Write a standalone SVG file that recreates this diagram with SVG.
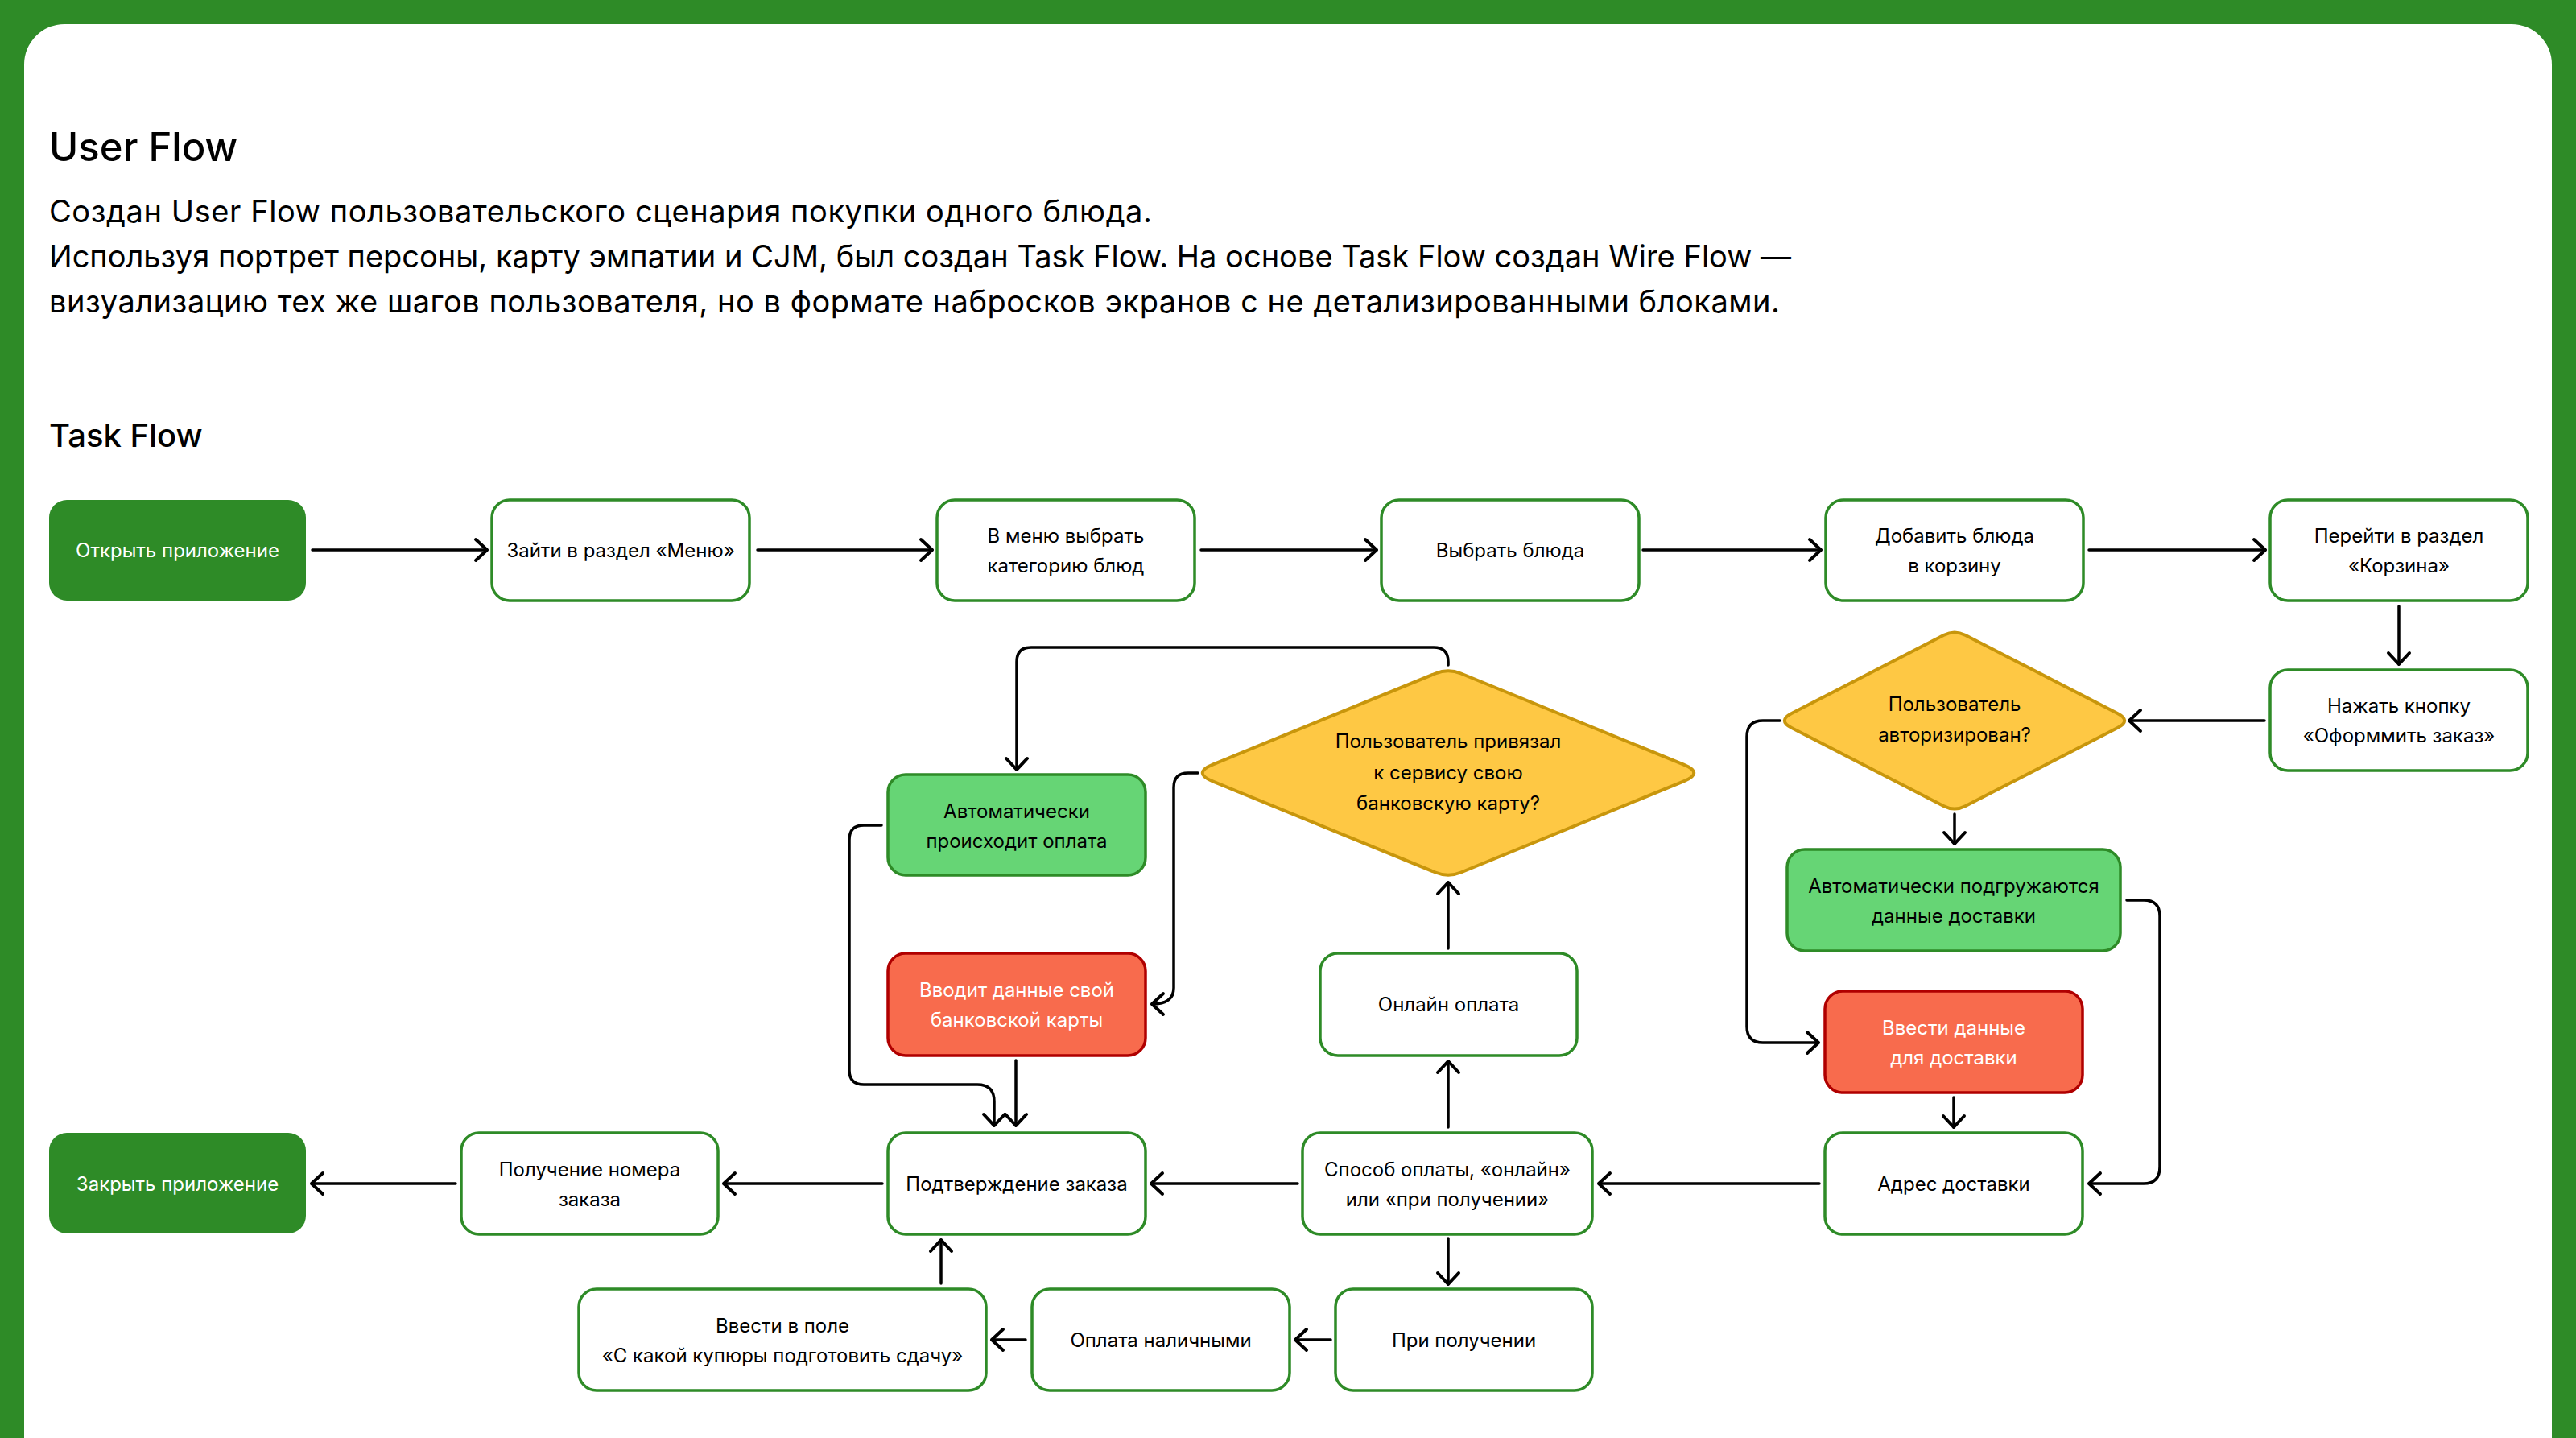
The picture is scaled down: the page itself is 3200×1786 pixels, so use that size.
<svg xmlns="http://www.w3.org/2000/svg" width="3200" height="1786" viewBox="0 0 3200 1786">
<defs>
<style>
.n{fill:#ffffff;stroke:#2E8B27;stroke-width:3.5}
.s{fill:#2E8B27;stroke:none}
.g{fill:#66D575;stroke:#2E8B27;stroke-width:3.5}
.r{fill:#F86B4D;stroke:#B00000;stroke-width:3.5}
.d{fill:#FEC844;stroke:#C8960C;stroke-width:4}
text{font-family:Inter,"Noto Sans","Liberation Sans",sans-serif}
.t{font-size:24px;fill:#000;text-anchor:middle}
.w{font-size:24px;fill:#fff;text-anchor:middle}
.c{fill:none;stroke:#000;stroke-width:3.5;stroke-linecap:round;stroke-linejoin:round}
</style>
<marker id="ah" viewBox="-20 -16 24 32" refX="0" refY="0" markerWidth="24" markerHeight="32" markerUnits="userSpaceOnUse" orient="auto">
<path d="M-14,-13 L0,0 L-14,13" fill="none" stroke="#000" stroke-width="4" stroke-linecap="round" stroke-linejoin="round"/>
</marker>
</defs>
<rect x="0" y="0" width="3200" height="1786" fill="#2E8B27"/>
<rect x="30" y="30" width="3140" height="1820" rx="50" fill="#ffffff"/>
<g id="header">
<text x="61" y="200" font-size="49" font-weight="500" fill="#000">User Flow</text>
<text x="61" y="276" font-size="38" fill="#000" textLength="1370" lengthAdjust="spacing">Создан User Flow пользовательского сценария покупки одного блюда.</text>
<text x="61" y="332" font-size="38" fill="#000" textLength="2164" lengthAdjust="spacing">Используя портрет персоны, карту эмпатии и CJM, был создан Task Flow. На основе Task Flow создан Wire Flow —</text>
<text x="61" y="388" font-size="38" fill="#000" textLength="2150" lengthAdjust="spacing">визуализацию тех же шагов пользователя, но в формате набросков экранов с не детализированными блоками.</text>
<text x="61" y="555" font-size="40" font-weight="500" fill="#000">Task Flow</text>
</g>
<g id="connectors">
<path class="c" marker-end="url(#ah)" d="M388,683 H605"/>
<path class="c" marker-end="url(#ah)" d="M941,683 H1158"/>
<path class="c" marker-end="url(#ah)" d="M1492,683 H1710"/>
<path class="c" marker-end="url(#ah)" d="M2041,683 H2262"/>
<path class="c" marker-end="url(#ah)" d="M2595,683 H2814"/>
<path class="c" marker-end="url(#ah)" d="M2980,753 V825"/>
<path class="c" marker-end="url(#ah)" d="M2813,895 H2645"/>
<path class="c" marker-end="url(#ah)" d="M2428,1011 V1048"/>
<path class="c" marker-end="url(#ah)" d="M2211,895 H2190 Q2170,895 2170,915 V1275 Q2170,1295 2190,1295 H2259"/>
<path class="c" marker-end="url(#ah)" d="M2642,1118 H2663 Q2683,1118 2683,1138 V1449 Q2683,1470 2663,1470 H2595"/>
<path class="c" marker-end="url(#ah)" d="M2427,1363 V1400"/>
<path class="c" marker-end="url(#ah)" d="M2260,1470 H1986"/>
<path class="c" marker-end="url(#ah)" d="M1612,1470 H1430"/>
<path class="c" marker-end="url(#ah)" d="M1096,1470 H899"/>
<path class="c" marker-end="url(#ah)" d="M566,1470 H387"/>
<path class="c" marker-end="url(#ah)" d="M1799,1400 V1318"/>
<path class="c" marker-end="url(#ah)" d="M1799,1178 V1096"/>
<path class="c" marker-end="url(#ah)" d="M1799,826 V822 Q1799,804 1781,804 H1281 Q1263,804 1263,822 V956"/>
<path class="c" marker-end="url(#ah)" d="M1488,960 H1476 Q1458,960 1458,978 V1227 Q1458,1247 1431,1247"/>
<path class="c" marker-end="url(#ah)" d="M1095,1025 H1073 Q1055,1025 1055,1043 V1329 Q1055,1347 1073,1347 H1214 Q1235,1347 1235,1368 V1398"/>
<path class="c" marker-end="url(#ah)" d="M1262,1317 V1398"/>
<path class="c" marker-end="url(#ah)" d="M1799,1538 V1595"/>
<path class="c" marker-end="url(#ah)" d="M1653,1664 H1609"/>
<path class="c" marker-end="url(#ah)" d="M1274,1664 H1232"/>
<path class="c" marker-end="url(#ah)" d="M1169,1594 V1540"/>
</g>
<g id="n-open"><rect class="s" x="61" y="621" width="319" height="125" rx="22"/><text class="w" x="220.5" y="692">Открыть приложение</text></g>
<g id="n-menu"><rect class="n" x="611" y="621" width="320" height="125" rx="22"/><text class="t" x="771" y="692">Зайти в раздел «Меню»</text></g>
<g id="n-category"><rect class="n" x="1164" y="621" width="320" height="125" rx="22"/><text class="t" x="1324" y="674">В меню выбрать</text><text class="t" x="1324" y="711">категорию блюд</text></g>
<g id="n-dish"><rect class="n" x="1716" y="621" width="320" height="125" rx="22"/><text class="t" x="1876" y="692">Выбрать блюда</text></g>
<g id="n-add"><rect class="n" x="2268" y="621" width="320" height="125" rx="22"/><text class="t" x="2428" y="674">Добавить блюда</text><text class="t" x="2428" y="711">в корзину</text></g>
<g id="n-cart"><rect class="n" x="2820" y="621" width="320" height="125" rx="22"/><text class="t" x="2980" y="674">Перейти в раздел</text><text class="t" x="2980" y="711">«Корзина»</text></g>
<g id="n-order"><rect class="n" x="2820" y="832" width="320" height="125" rx="22"/><text class="t" x="2980" y="885">Нажать кнопку</text><text class="t" x="2980" y="922">«Оформмить заказ»</text></g>
<g id="n-auth"><path class="d" d="M2441.2,788.78 L2630.4,885.96 Q2648,895 2630.4,904.04 L2441.2,1001.22 Q2428,1008 2414.8,1001.22 L2225.6,904.04 Q2208,895 2225.6,885.96 L2414.8,788.78 Q2428,782 2441.2,788.78 Z"/><text class="t" x="2428" y="883">Пользователь</text><text class="t" x="2428" y="921">авторизирован?</text></g>
<g id="n-autoaddr"><rect class="g" x="2220" y="1055" width="414" height="126" rx="22"/><text class="t" x="2427" y="1109">Автоматически подгружаются</text><text class="t" x="2427" y="1146">данные доставки</text></g>
<g id="n-enteraddr"><rect class="r" x="2267" y="1231" width="320" height="126" rx="22"/><text class="w" x="2427" y="1285">Ввести данные</text><text class="w" x="2427" y="1322">для доставки</text></g>
<g id="n-addr"><rect class="n" x="2267" y="1407" width="320" height="126" rx="22"/><text class="t" x="2427" y="1479">Адрес доставки</text></g>
<g id="n-pay"><rect class="n" x="1618" y="1407" width="360" height="126" rx="22"/><text class="t" x="1798" y="1461">Способ оплаты, «онлайн»</text><text class="t" x="1798" y="1498">или «при получении»</text></g>
<g id="n-confirm"><rect class="n" x="1103" y="1407" width="320" height="126" rx="22"/><text class="t" x="1263" y="1479">Подтверждение заказа</text></g>
<g id="n-number"><rect class="n" x="573" y="1407" width="319" height="126" rx="22"/><text class="t" x="732.5" y="1461">Получение номера</text><text class="t" x="732.5" y="1498">заказа</text></g>
<g id="n-close"><rect class="s" x="61" y="1407" width="319" height="125" rx="22"/><text class="w" x="220.5" y="1479">Закрыть приложение</text></g>
<g id="n-change"><rect class="n" x="719" y="1601" width="506" height="126" rx="22"/><text class="t" x="972" y="1655">Ввести в поле</text><text class="t" x="972" y="1692">«С какой купюры подготовить сдачу»</text></g>
<g id="n-cash"><rect class="n" x="1282" y="1601" width="320" height="126" rx="22"/><text class="t" x="1442" y="1673">Оплата наличными</text></g>
<g id="n-onreceive"><rect class="n" x="1659" y="1601" width="319" height="126" rx="22"/><text class="t" x="1818.5" y="1673">При получении</text></g>
<g id="n-online"><rect class="n" x="1640" y="1184" width="319" height="127" rx="22"/><text class="t" x="1799.5" y="1256">Онлайн оплата</text></g>
<g id="n-card"><path class="d" d="M1814.9,836.5 L2091.56,949.6 Q2117,960 2091.56,970.4 L1814.9,1083.5 Q1799,1090 1783.1,1083.5 L1506.44,970.4 Q1481,960 1506.44,949.6 L1783.1,836.5 Q1799,830 1814.9,836.5 Z"/><text class="t" x="1799" y="929">Пользователь привязал</text><text class="t" x="1799" y="968">к сервису свою</text><text class="t" x="1799" y="1006">банковскую карту?</text></g>
<g id="n-entercard"><rect class="r" x="1103" y="1184" width="320" height="127" rx="22"/><text class="w" x="1263" y="1238">Вводит данные свой</text><text class="w" x="1263" y="1275">банковской карты</text></g>
<g id="n-autopay"><rect class="g" x="1103" y="962" width="320" height="125" rx="22"/><text class="t" x="1263" y="1016">Автоматически</text><text class="t" x="1263" y="1053">происходит оплата</text></g>
</svg>
